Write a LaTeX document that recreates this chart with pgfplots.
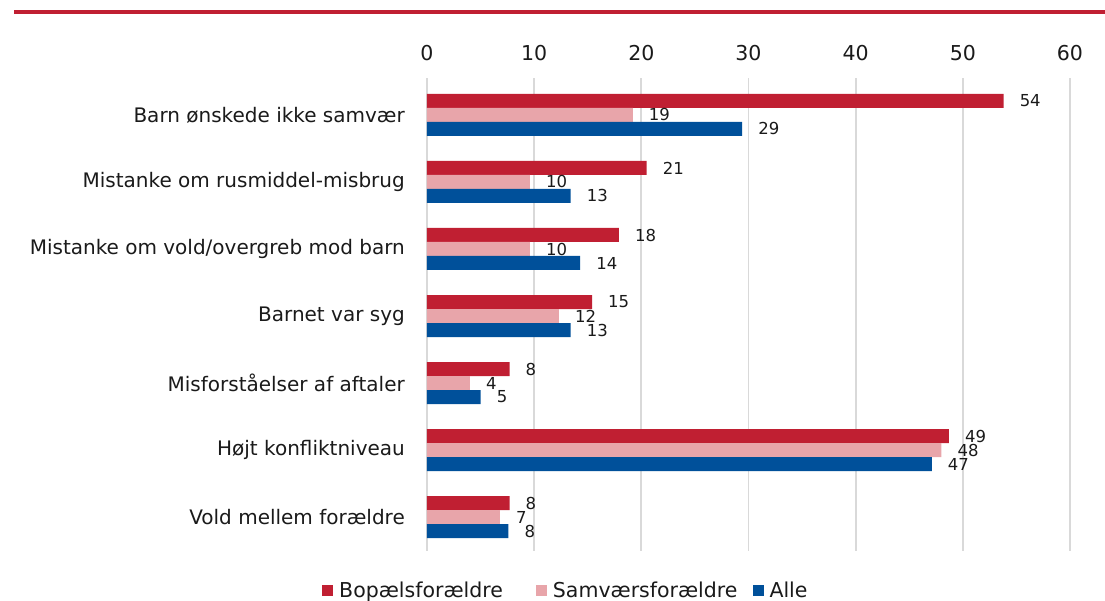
\documentclass[border=0pt]{standalone}
\usepackage{pgfplots}
\pgfplotsset{compat=1.18}
\usepackage{fontspec}
\setmainfont{DejaVu Sans}
\definecolor{cred}{HTML}{C01F32}
\definecolor{cpink}{HTML}{E8A5AA}
\definecolor{cblue}{HTML}{00509A}
\definecolor{cgrid}{HTML}{D9D9D9}
\definecolor{ctext}{HTML}{1A1A1A}
\begin{document}
\begin{tikzpicture}
\begin{axis}[
 name=ax, at={(0pt,0pt)}, anchor=south west,
 scale only axis, width=643pt, height=473pt,
 xbar, bar width=14pt,
 xmin=0, xmax=60, xtick={0,10,...,60},
 ymin=-0.507, ymax=6.552,
 ytick={0,...,6},
 yticklabels={Vold mellem forældre, Højt konfliktniveau, Misforståelser af aftaler, Barnet var syg, Mistanke om vold/overgreb mod barn, Mistanke om rusmiddel-misbrug, Barn ønskede ikke samvær},
 axis line style={draw=none},
 xmajorgrids, grid style={cgrid, line width=1.8pt},
 major tick length=0pt,
 xticklabel pos=right,
 ticklabel style={text=ctext},
 /pgf/number format/assume math mode=true,
 xticklabel style={font=\fontsize{20.5}{24}\selectfont, inner sep=0pt, anchor=south, yshift=17pt},
 yticklabel style={font=\fontsize{20}{24}\selectfont, inner sep=0pt, anchor=east, xshift=-22pt},
 clip=false,
 point meta=explicit symbolic,
 nodes near coords,
 nodes near coords style={font=\fontsize{16.5}{19}\selectfont, anchor=west, inner sep=0pt, xshift=16pt, text=ctext},
 legend style={at={(axis description cs:0.216,-0.0825)}, anchor=center, draw=none, fill=none,
   legend columns=3, font=\fontsize{20.5}{24}\selectfont, inner sep=0pt, text=ctext,
   /tikz/every odd column/.append style={column sep=4pt},
   /tikz/column 2/.append style={column sep=31pt},
   /tikz/column 4/.append style={column sep=13pt}},
 legend image code/.code={\fill[#1] (0pt,-5.5pt) rectangle (11pt,5.5pt);},
]
\addplot[fill=cred, draw=none, bar shift=14pt] coordinates {
 (53.8,6) [54] (20.5,5) [21] (17.9,4) [18] (15.4,3) [15] (7.7,2) [8] (48.7,1) [49] (7.7,0) [8]};
\addlegendentry{Bopælsforældre}
\addplot[fill=cpink, draw=none, bar shift=0pt] coordinates {
 (19.2,6) [19] (9.6,5) [10] (9.6,4) [10] (12.3,3) [12] (4.0,2) [4] (48.0,1) [48] (6.8,0) [7]};
\addlegendentry{Samværsforældre}
\addplot[fill=cblue, draw=none, bar shift=-14pt] coordinates {
 (29.4,6) [29] (13.4,5) [13] (14.3,4) [14] (13.4,3) [13] (5.0,2) [5] (47.1,1) [47] (7.6,0) [8]};
\addlegendentry{Alle}
\end{axis}
\fill[cred] (-413pt,537pt) rectangle (678pt,541pt);
\pgfresetboundingbox
\useasboundingbox (-427pt,-50pt) rectangle (678pt,551pt);
\end{tikzpicture}
\end{document}
